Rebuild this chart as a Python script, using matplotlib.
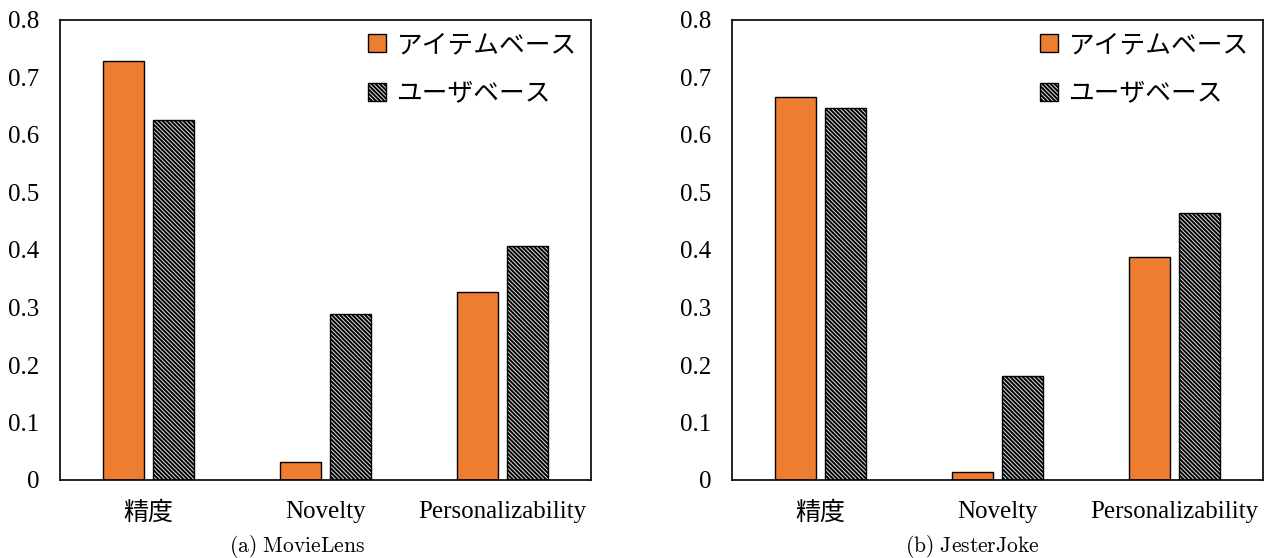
import matplotlib
matplotlib.use("Agg")
import matplotlib.pyplot as plt
import numpy as np

plt.rcParams['font.family'] = ['Liberation Serif', 'Noto Sans CJK JP']
plt.rcParams['mathtext.fontset'] = 'cm'
plt.rcParams['hatch.linewidth'] = 1.4

CATEGORIES = ["精度", "Novelty", "Personalizability"]
SERIES = ["アイテムベース", "ユーザベース"]

MOVIELENS_ITEM = [0.729, 0.031, 0.327]
MOVIELENS_USER = [0.626, 0.289, 0.407]
JESTER_ITEM = [0.666, 0.014, 0.388]
JESTER_USER = [0.647, 0.181, 0.464]

PANELS = [
    (r"$\mathrm{(a)\ MovieLens}$", MOVIELENS_ITEM, MOVIELENS_USER),
    (r"$\mathrm{(b)\ JesterJoke}$", JESTER_ITEM, JESTER_USER),
]

ORANGE = "#ed7d31"
BAR_W = 0.232
OFFSET = 0.141

fig = plt.figure(figsize=(12.7, 5.58), dpi=100)
axes_rects = [
    [60 / 1270, 1 - 480 / 558, 531 / 1270, 460 / 558],
    [732 / 1270, 1 - 480 / 558, 531 / 1270, 460 / 558],
]
caption_x = [297 / 1270, 972 / 1270]

x = np.arange(len(CATEGORIES))
for rect, cx, (caption, item_vals, user_vals) in zip(axes_rects, caption_x, PANELS):
    ax = fig.add_axes(rect)
    ax.bar(x - OFFSET, item_vals, BAR_W, color=ORANGE, edgecolor="black",
           linewidth=1.0, label=SERIES[0])
    ax.bar(x + OFFSET, user_vals, BAR_W, color="#e0e0e0", edgecolor="black",
           hatch="\\\\\\\\\\\\\\\\", linewidth=1.0, label=SERIES[1])
    ax.set_xlim(-0.5, 2.5)
    ax.set_ylim(0, 0.8)
    ax.set_yticks(np.arange(0, 0.81, 0.1))
    ax.set_yticklabels(["0"] + [f"{v:.1f}" for v in np.arange(0.1, 0.81, 0.1)])
    ax.set_xticks(x)
    ax.set_xticklabels(CATEGORIES)
    ax.tick_params(axis="both", length=0, labelsize=18)
    ax.tick_params(axis="y", pad=15)
    ax.tick_params(axis="x", pad=15)
    for s in ax.spines.values():
        s.set_linewidth(1.2)
        s.set_color("black")
    ax.legend(loc="upper right", frameon=False, fontsize=18.5,
              handlelength=0.7, handleheight=0.7, handletextpad=0.4,
              labelspacing=1.0, borderaxespad=0.15)
    fig.text(cx, 1 - 546 / 558, caption, ha="center", va="center", fontsize=15.5)

fig.savefig("out.png", dpi=100)
